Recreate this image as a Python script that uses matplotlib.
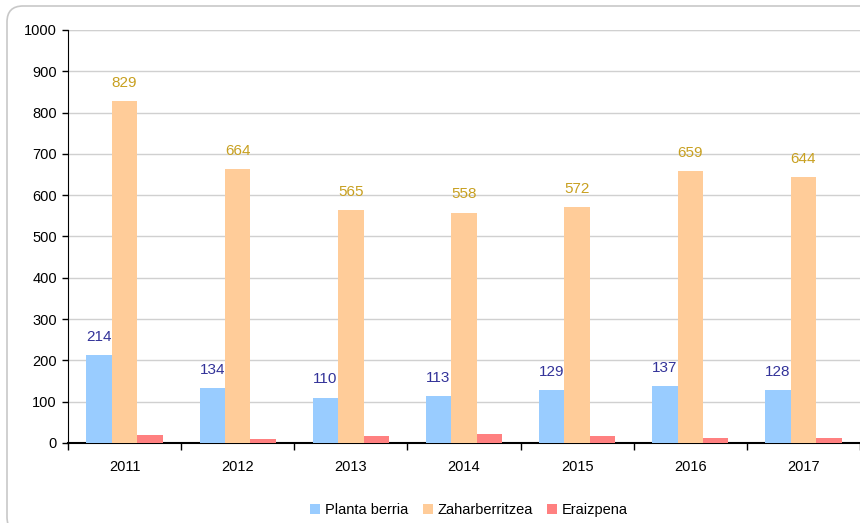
import numpy as np
import matplotlib.pyplot as plt
from matplotlib.patches import FancyBboxPatch
from matplotlib.transforms import IdentityTransform

plt.rcParams['font.family'] = ['Liberation Sans', 'DejaVu Sans']

# -----
# Data
# -----
years = ["2011", "2012", "2013", "2014", "2015", "2016", "2017"]
planta_berria = [214, 134, 110, 113, 129, 137, 128]
zaharberritzea = [829, 664, 565, 558, 572, 659, 644]
eraizpena = [20, 10, 18, 22, 18, 13, 13]

series_names = ["Planta berria", "Zaharberritzea", "Eraizpena"]
colors = ["#99ccff", "#ffcc99", "#ff8080"]
label_colors = ["#333399", "#c8a020", None]

# -----
# Plot
# -----
fig = plt.figure(figsize=(8.6, 5.23), dpi=100)
ax = fig.add_axes([68 / 860, 1 - 443 / 523, 792 / 860, 413 / 523])

# rounded frame around the chart
frame = FancyBboxPatch((7, -10), 900, 527, boxstyle="round,pad=0,rounding_size=16",
                       transform=IdentityTransform(), facecolor="white",
                       edgecolor="#c8c8c8", linewidth=1.2, zorder=-10)
fig.patches.append(frame)

x = np.arange(len(years))
w = 0.225
data = [planta_berria, zaharberritzea, eraizpena]

for i, (vals, name, c, lc) in enumerate(zip(data, series_names, colors, label_colors)):
    pos = x + (i - 1) * w
    ax.bar(pos, vals, width=w, color=c, label=name, zorder=3)
    if lc is not None:
        for px, v in zip(pos, vals):
            ax.annotate(str(v), (px, v), xytext=(0, 8), textcoords="offset points",
                        ha="center", va="bottom", color=lc, fontsize=11)

ax.set_xlim(-0.5, len(years) - 0.5)
ax.set_ylim(0, 1000)
ax.set_yticks(np.arange(0, 1001, 100))
ax.yaxis.grid(True, color="#d0d0d0", linewidth=1, zorder=0)
ax.axhline(1000, color="#909090", linewidth=1.5, zorder=1)

# category labels between boundary ticks
ax.set_xticks(x)
ax.set_xticklabels(years, fontsize=10.5)
ax.tick_params(axis="x", length=0, pad=12)
ax.set_xticks(np.arange(len(years) + 1) - 0.5, minor=True)
ax.tick_params(axis="x", which="minor", length=5, width=1, color="black")
ax.tick_params(axis="y", length=4, width=1, labelsize=10.5, pad=4)

for s in ["top", "right"]:
    ax.spines[s].set_visible(False)
ax.spines["left"].set_color("black")
ax.spines["bottom"].set_color("black")
ax.spines["bottom"].set_linewidth(1.5)
ax.set_facecolor("none")

fig.legend(loc="center", bbox_to_anchor=(469 / 860, 1 - 510 / 523), ncol=3,
           frameon=False, fontsize=10.5, handlelength=0.7, handleheight=0.7,
           handletextpad=0.3, columnspacing=1.0)

fig.savefig("out.png", dpi=100)
